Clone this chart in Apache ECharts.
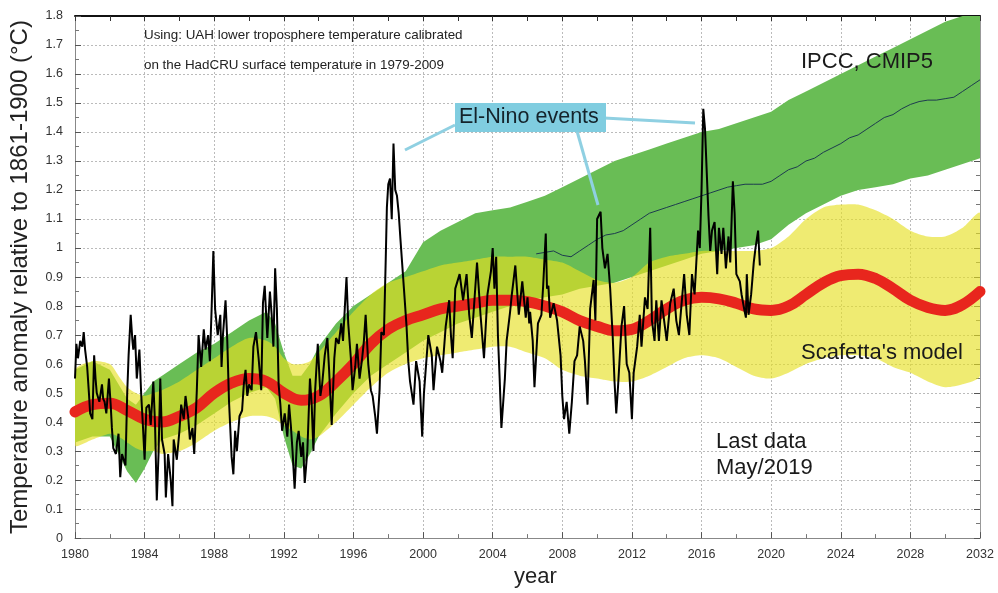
<!DOCTYPE html>
<html>
<head>
<meta charset="utf-8">
<script src="https://cdn.jsdelivr.net/npm/echarts@6/dist/echarts.min.js"></script>
<style>
html,body{margin:0;padding:0;background:#fff;}
#chart{width:998px;height:593px;}
</style>
</head>
<body>
<div id="chart"></div>
<script>
// ---------- DATA ----------
// UAH (calibrated) monthly-ish anomalies: [decimal year, value]
const uah1980s = [[1980.0,0.55],[1980.08,0.67],[1980.17,0.62],[1980.3,0.68],[1980.42,0.66],[1980.5,0.71],[1980.58,0.65],[1980.7,0.59],[1980.8,0.5],[1980.87,0.43],[1981.0,0.41],[1981.1,0.63],[1981.18,0.55],[1981.25,0.5],[1981.4,0.47],[1981.55,0.53],[1981.62,0.48],[1981.7,0.47],[1981.8,0.43],[1981.95,0.55],[1982.05,0.46],[1982.12,0.38],[1982.2,0.31],[1982.35,0.29],[1982.5,0.36],[1982.6,0.21],[1982.7,0.29],[1982.8,0.27],[1982.9,0.25],[1983.0,0.5],[1983.08,0.63],[1983.2,0.77],[1983.3,0.68],[1983.35,0.65],[1983.45,0.7],[1983.55,0.55],[1983.7,0.65],[1983.8,0.5],[1983.9,0.39],[1984.0,0.27],[1984.1,0.45],[1984.25,0.46],[1984.35,0.39],[1984.5,0.54],[1984.6,0.39],[1984.7,0.13],[1984.8,0.29],[1984.9,0.55],[1985.0,0.34],[1985.15,0.29],[1985.22,0.14],[1985.35,0.29],[1985.5,0.2],[1985.6,0.11],[1985.67,0.34],[1985.85,0.27],[1986.0,0.37],[1986.1,0.46],[1986.25,0.41],[1986.35,0.49],[1986.5,0.42],[1986.6,0.34],[1986.75,0.38],[1986.85,0.29],[1987.0,0.51],[1987.1,0.7],[1987.25,0.59],[1987.4,0.72],[1987.5,0.65],[1987.65,0.7],[1987.75,0.61],[1987.85,0.79],[1987.95,0.99],[1988.05,0.79],[1988.2,0.7],[1988.35,0.77],[1988.42,0.59],[1988.5,0.7],[1988.65,0.82],[1988.75,0.68],[1988.85,0.47],[1989.0,0.28],[1989.1,0.22],[1989.2,0.37],[1989.3,0.3],[1989.45,0.42],[1989.6,0.44],[1989.7,0.53],[1989.8,0.58],[1989.9,0.49]];
const uah1990s = [[1990.0,0.53],[1990.15,0.51],[1990.25,0.66],[1990.4,0.71],[1990.55,0.62],[1990.7,0.51],[1990.8,0.81],[1990.9,0.87],[1991.05,0.69],[1991.2,0.85],[1991.3,0.77],[1991.4,0.66],[1991.5,0.93],[1991.6,0.79],[1991.7,0.53],[1991.8,0.46],[1991.9,0.37],[1992.05,0.43],[1992.2,0.35],[1992.3,0.46],[1992.4,0.39],[1992.5,0.3],[1992.62,0.17],[1992.75,0.33],[1992.85,0.37],[1993.0,0.28],[1993.1,0.33],[1993.2,0.19],[1993.35,0.3],[1993.5,0.55],[1993.6,0.46],[1993.7,0.3],[1993.8,0.51],[1993.95,0.67],[1994.1,0.49],[1994.2,0.53],[1994.35,0.63],[1994.5,0.69],[1994.6,0.58],[1994.75,0.39],[1994.9,0.62],[1995.0,0.69],[1995.15,0.67],[1995.3,0.74],[1995.4,0.68],[1995.5,0.79],[1995.6,0.9],[1995.7,0.74],[1995.85,0.62],[1995.95,0.51],[1996.1,0.59],[1996.2,0.67],[1996.35,0.55],[1996.5,0.62],[1996.6,0.68],[1996.7,0.77],[1996.85,0.6],[1997.0,0.51],[1997.1,0.49],[1997.25,0.42],[1997.35,0.36],[1997.5,0.51],[1997.6,0.71],[1997.75,0.7],[1997.85,0.95],[1997.92,1.14],[1998.0,1.22],[1998.1,1.24],[1998.2,1.1],[1998.3,1.36],[1998.4,1.2],[1998.5,1.18],[1998.6,1.12],[1998.7,1.03],[1998.9,0.86],[1999.05,0.73],[1999.15,0.61],[1999.25,0.54],[1999.45,0.46],[1999.6,0.61],[1999.8,0.54],[1999.95,0.35]];
const uah2000s = [[2000.05,0.5],[2000.3,0.7],[2000.5,0.63],[2000.6,0.51],[2000.8,0.66],[2001.0,0.61],[2001.1,0.57],[2001.3,0.73],[2001.5,0.82],[2001.6,0.7],[2001.7,0.62],[2001.85,0.86],[2002.1,0.91],[2002.3,0.82],[2002.5,0.91],[2002.65,0.77],[2002.8,0.69],[2003.1,0.95],[2003.3,0.77],[2003.5,0.62],[2003.7,0.84],[2003.9,0.92],[2004.0,1.0],[2004.1,0.86],[2004.2,0.97],[2004.3,0.7],[2004.4,0.55],[2004.5,0.38],[2004.7,0.55],[2004.8,0.68],[2005.0,0.78],[2005.1,0.84],[2005.3,0.94],[2005.5,0.77],[2005.7,0.885],[2005.9,0.76],[2006.0,0.83],[2006.1,0.74],[2006.15,0.78],[2006.3,0.68],[2006.4,0.52],[2006.6,0.74],[2006.8,0.77],[2006.9,0.87],[2007.05,1.05],[2007.12,0.86],[2007.2,0.87],[2007.3,0.76],[2007.5,0.81],[2007.7,0.75],[2007.9,0.63],[2008.0,0.49],[2008.1,0.41],[2008.25,0.47],[2008.4,0.36],[2008.55,0.47],[2008.7,0.61],[2008.85,0.63],[2009.0,0.73],[2009.2,0.68],[2009.3,0.61],[2009.45,0.46],[2009.6,0.79],[2009.8,0.89],[2009.9,0.75]];
const uah2010s = [[2010.0,1.1],[2010.2,1.125],[2010.3,1.0],[2010.45,0.93],[2010.6,0.98],[2010.75,0.86],[2010.9,0.69],[2011.0,0.54],[2011.1,0.43],[2011.2,0.52],[2011.4,0.73],[2011.55,0.8],[2011.7,0.6],[2011.85,0.57],[2012.0,0.41],[2012.1,0.57],[2012.3,0.66],[2012.45,0.77],[2012.55,0.66],[2012.75,0.83],[2012.9,0.79],[2013.05,1.07],[2013.15,0.75],[2013.3,0.68],[2013.4,0.82],[2013.55,0.68],[2013.7,0.82],[2013.85,0.75],[2014.0,0.68],[2014.2,0.81],[2014.4,0.86],[2014.55,0.75],[2014.7,0.7],[2014.9,0.84],[2015.0,0.91],[2015.15,0.77],[2015.3,0.7],[2015.45,0.91],[2015.6,0.84],[2015.7,0.95],[2015.8,1.06],[2015.9,1.0],[2016.0,1.2],[2016.1,1.48],[2016.2,1.41],[2016.3,1.26],[2016.4,1.11],[2016.5,0.99],[2016.6,1.06],[2016.75,1.09],[2016.9,0.91],[2017.0,1.07],[2017.15,0.98],[2017.25,1.07],[2017.4,0.93],[2017.55,1.04],[2017.65,0.95],[2017.8,1.23],[2017.9,1.12],[2018.0,0.91],[2018.2,0.885],[2018.3,0.84],[2018.45,0.79],[2018.55,0.76],[2018.6,0.91],[2018.7,0.77],[2018.85,0.84],[2019.0,0.95],[2019.1,1.0],[2019.25,1.06],[2019.35,0.94]];

// Envelope years (shared by both bands)
const bandYears = [1980,1981,1982,1982.5,1983,1983.5,1984,1984.5,1985,1986,1987,1988,1989,1990,1991,1991.5,1992,1992.5,1993,1993.5,1994,1995,1996,1997,1998,1999,2000,2001,2002,2003,2004,2005,2006,2007,2008,2009,2010,2011,2012,2013,2014,2015,2016,2017,2018,2019,2020,2021,2022,2023,2024,2025,2026,2027,2028,2029,2030,2031,2032];
// IPCC CMIP5 envelope
const ipccLow  = [0.33,0.35,0.35,0.29,0.23,0.19,0.24,0.30,0.34,0.36,0.39,0.43,0.47,0.50,0.52,0.48,0.35,0.25,0.24,0.29,0.35,0.43,0.50,0.56,0.60,0.64,0.68,0.71,0.74,0.76,0.78,0.80,0.82,0.83,0.84,0.86,0.87,0.88,0.90,0.92,0.94,0.96,0.98,0.99,1.00,1.01,1.03,1.08,1.12,1.15,1.18,1.20,1.21,1.22,1.24,1.25,1.27,1.29,1.31];
const ipccHigh = [0.58,0.61,0.58,0.53,0.48,0.46,0.50,0.54,0.56,0.60,0.64,0.67,0.71,0.75,0.78,0.74,0.64,0.56,0.56,0.60,0.66,0.74,0.80,0.84,0.88,0.92,1.02,1.06,1.09,1.12,1.13,1.14,1.16,1.18,1.21,1.24,1.27,1.30,1.32,1.34,1.36,1.38,1.40,1.41,1.43,1.45,1.47,1.51,1.54,1.57,1.60,1.63,1.66,1.69,1.72,1.75,1.78,1.80,1.82];
// Scafetta's model envelope
const modelLow  = [0.32,0.34,0.36,0.35,0.33,0.31,0.30,0.30,0.29,0.30,0.33,0.37,0.40,0.42,0.42,0.41,0.39,0.37,0.35,0.34,0.35,0.40,0.46,0.52,0.57,0.60,0.62,0.63,0.64,0.65,0.66,0.66,0.64,0.62,0.58,0.56,0.55,0.54,0.54,0.56,0.59,0.62,0.63,0.62,0.59,0.56,0.55,0.57,0.60,0.62,0.63,0.63,0.62,0.59,0.57,0.54,0.52,0.53,0.56];
const modelHigh = [0.58,0.61,0.60,0.56,0.52,0.50,0.49,0.50,0.51,0.54,0.58,0.62,0.66,0.69,0.68,0.66,0.62,0.60,0.60,0.61,0.64,0.71,0.78,0.84,0.88,0.90,0.92,0.94,0.95,0.96,0.97,0.97,0.97,0.96,0.95,0.92,0.89,0.88,0.90,0.95,0.97,0.98,0.99,0.99,0.99,0.99,1.00,1.04,1.10,1.14,1.15,1.15,1.13,1.10,1.06,1.04,1.04,1.07,1.12];
// Scafetta's model central curve
const modelYears = [1980,1981,1982,1983,1984,1985,1986,1987,1988,1989,1990,1991,1992,1993,1994,1995,1996,1997,1998,1999,2000,2001,2002,2003,2004,2005,2006,2007,2008,2009,2010,2011,2012,2013,2014,2015,2016,2017,2018,2019,2020,2021,2022,2023,2024,2025,2026,2027,2028,2029,2030,2031,2032];
const modelMean  = [0.435,0.46,0.465,0.44,0.41,0.40,0.42,0.45,0.50,0.535,0.55,0.54,0.50,0.475,0.49,0.54,0.60,0.67,0.72,0.75,0.77,0.79,0.80,0.81,0.82,0.82,0.815,0.80,0.78,0.75,0.73,0.715,0.72,0.75,0.79,0.82,0.83,0.825,0.81,0.79,0.785,0.80,0.84,0.88,0.905,0.91,0.895,0.86,0.82,0.795,0.785,0.805,0.85];
// IPCC CMIP5 multi-model mean (visible part)
const ipccMeanYears = [2006.5,2007,2007.5,2008,2008.5,2009,2009.5,2010,2010.5,2011,2011.5,2012,2012.5,2013,2013.5,2014,2014.5,2015,2015.5,2016,2016.5,2017,2017.5,2018,2018.5,2019,2019.5,2020,2020.5,2021,2021.5,2022,2022.5,2023,2023.5,2024,2024.5,2025,2025.5,2026,2026.5,2027,2027.5,2028,2028.5,2029,2029.5,2030,2030.5,2031,2031.5,2032];
const ipccMean = [0.98,0.985,0.99,0.975,0.97,0.99,1.01,1.03,1.045,1.05,1.06,1.08,1.1,1.12,1.13,1.14,1.15,1.16,1.17,1.18,1.19,1.2,1.21,1.215,1.22,1.22,1.22,1.23,1.25,1.27,1.28,1.3,1.31,1.33,1.345,1.36,1.38,1.39,1.41,1.43,1.45,1.46,1.48,1.495,1.505,1.51,1.51,1.515,1.52,1.54,1.56,1.58];

// ---------- CHART ----------
const zip = (xs, ys) => xs.map((x, i) => [x, ys[i]]);
const FONT = 'Liberation Sans, Arial, sans-serif';

// band renderer: polygon through the axis scales (api.coord)
function bandSeries(name, xs, lo, hi, fill, z, smooth) {
  return {
    name: name, type: 'custom', silent: true, clip: true, z: z,
    data: [[xs[0], lo[0]]],
    renderItem: function (params, api) {
      const top = xs.map((x, i) => api.coord([x, hi[i]]));
      const bottom = xs.map((x, i) => api.coord([x, lo[i]])).reverse();
      return {
        type: 'polygon',
        shape: {points: top.concat(bottom), smooth: smooth || 0},
        style: {fill: fill, stroke: null},
        clipPath: {
          type: 'rect',
          shape: {x: params.coordSys.x, y: params.coordSys.y, width: params.coordSys.width, height: params.coordSys.height}
        }
      };
    }
  };
}

const chart = echarts.init(document.getElementById('chart'), null, {renderer: 'canvas'});

const baseX = {type: 'value', min: 1980, max: 2032, interval: 4};
const baseY = {type: 'value', min: 0, max: 1.8, interval: 0.1};

const option = {
  animation: false,
  backgroundColor: '#ffffff',
  grid: {left: 75, right: 18, top: 16, bottom: 51, containLabel: false},
  xAxis: [
    Object.assign({}, baseX, {
      position: 'bottom',
      name: 'year', nameLocation: 'middle', nameGap: 23,
      nameTextStyle: {fontSize: 22, color: '#222', fontFamily: FONT, padding: [0, 0, 0, 16]},
      axisLine: {show: true, onZero: false, lineStyle: {color: '#888', width: 1}},
      axisTick: {show: true, inside: true, length: 6, lineStyle: {color: '#555'}},
      minorTick: {show: true, splitNumber: 2, length: 4, lineStyle: {color: '#777'}},
      axisLabel: {fontSize: 12.5, color: '#333', margin: 10, fontFamily: FONT, formatter: v => String(v)},
      splitLine: {show: true, lineStyle: {color: '#bbb', type: [2, 2], width: 1}}
    }),
    Object.assign({}, baseX, {
      position: 'top',
      axisLine: {show: true, onZero: false, lineStyle: {color: '#111', width: 2}},
      axisTick: {show: true, inside: true, length: 5, lineStyle: {color: '#333'}},
      minorTick: {show: true, splitNumber: 2, length: 5, lineStyle: {color: '#333'}},
      axisLabel: {show: false},
      splitLine: {show: false}
    })
  ],
  yAxis: [
    Object.assign({}, baseY, {
      position: 'left',
      name: 'Temperature anomaly relative to 1861-1900 (°C)',
      nameLocation: 'middle', nameGap: 43, nameRotate: 90,
      nameTextStyle: {fontSize: 24, color: '#222', fontFamily: FONT},
      axisLine: {show: true, onZero: false, lineStyle: {color: '#888', width: 1}},
      axisTick: {show: true, inside: true, length: 6, lineStyle: {color: '#555'}},
      minorTick: {show: true, splitNumber: 2, length: 4, lineStyle: {color: '#777'}},
      axisLabel: {fontSize: 12.5, color: '#333', margin: 12, fontFamily: FONT},
      splitLine: {show: true, lineStyle: {color: '#bbb', type: [2, 2], width: 1}}
    }),
    Object.assign({}, baseY, {
      position: 'right',
      axisLine: {show: true, onZero: false, lineStyle: {color: '#999', width: 1}},
      axisTick: {show: true, inside: true, length: 6, lineStyle: {color: '#555'}},
      minorTick: {show: true, splitNumber: 2, length: 4, lineStyle: {color: '#777'}},
      axisLabel: {show: false},
      splitLine: {show: false}
    })
  ],
  series: [
    bandSeries('IPCC, CMIP5', bandYears, ipccLow, ipccHigh, '#69bd55', 1, 0),
    bandSeries("Scafetta's model range", bandYears, modelLow, modelHigh, 'rgba(230,224,35,0.64)', 2, 0.25),
    {
      name: 'IPCC mean', type: 'line', symbol: 'none', silent: true,
      data: zip(ipccMeanYears, ipccMean),
      lineStyle: {color: '#1d3b4f', width: 1}, z: 3
    },
    {
      name: "Scafetta's model", type: 'line', symbol: 'none', silent: true, smooth: 0.4,
      data: zip(modelYears, modelMean),
      lineStyle: {color: '#e8261d', width: 11, cap: 'round'}, z: 4
    },
    {
      name: 'UAH', type: 'line', symbol: 'none', silent: true,
      data: uah1980s.concat(uah1990s, uah2000s, uah2010s),
      lineStyle: {color: '#000', width: 2}, z: 5
    }
  ],
  graphic: [
    {type: 'text', left: 144, top: 29, z: 10,
      style: {text: 'Using: UAH lower troposphere temperature calibrated', font: '13.4px ' + FONT, fill: '#222'}},
    {type: 'text', left: 144, top: 59, z: 10,
      style: {text: 'on the HadCRU surface temperature in 1979-2009', font: '13.4px ' + FONT, fill: '#222'}},
    {type: 'text', left: 801, top: 51, z: 10,
      style: {text: 'IPCC, CMIP5', font: '22px ' + FONT, fill: '#1a1a1a'}},
    {type: 'text', left: 801, top: 342, z: 10,
      style: {text: "Scafetta's model", font: '22px ' + FONT, fill: '#1a1a1a'}},
    {type: 'text', left: 716, top: 431, z: 10,
      style: {text: 'Last data', font: '22px ' + FONT, fill: '#1a1a1a'}},
    {type: 'text', left: 716, top: 457, z: 10,
      style: {text: 'May/2019', font: '22px ' + FONT, fill: '#1a1a1a'}},
    {type: 'line', z: 10, shape: {x1: 455, y1: 125, x2: 405, y2: 150},
      style: {stroke: '#8fd0e2', lineWidth: 3}},
    {type: 'line', z: 10, shape: {x1: 577, y1: 131, x2: 598, y2: 205},
      style: {stroke: '#8fd0e2', lineWidth: 3}},
    {type: 'line', z: 10, shape: {x1: 604, y1: 118, x2: 695, y2: 123},
      style: {stroke: '#8fd0e2', lineWidth: 3}},
    {type: 'rect', z: 11, shape: {x: 455, y: 103, width: 151, height: 29},
      style: {fill: '#80cde0'}},
    {type: 'text', left: 459, top: 106, z: 12,
      style: {text: 'El-Nino events', font: '21.5px ' + FONT, fill: '#14232b'}}
  ]
};

chart.setOption(option);
</script>
</body>
</html>
